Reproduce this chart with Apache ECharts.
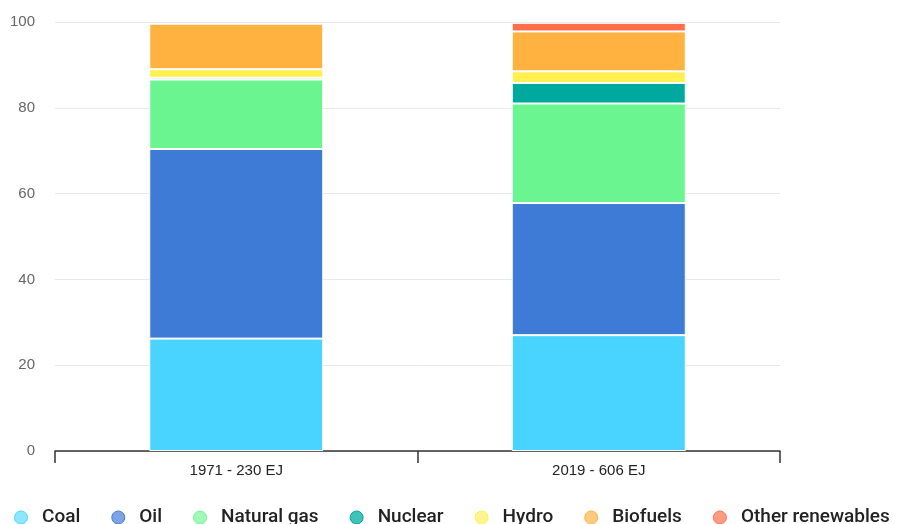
<!DOCTYPE html>
<html>
<head>
<meta charset="utf-8">
<script src="https://cdn.jsdelivr.net/npm/echarts@6/dist/echarts.min.js"></script>
<style>
  html, body { margin: 0; padding: 0; background: #fff; }
  #chart { width: 898px; height: 524px; }
</style>
</head>
<body>
<div id="chart"></div>
<script>
// share of total energy supply (%)
const categories = ["1971 - 230 EJ", "2019 - 606 EJ"];
const coal = [26.2, 27.0];
const oil = [44.2, 30.8];
const naturalGas = [16.2, 23.2];
const nuclear = [0.4, 4.8];
const hydro = [2.0, 2.7];
const biofuels = [10.6, 9.3];
const otherRenewables = [0.1, 2.0];

const names = ["Coal", "Oil", "Natural gas", "Nuclear", "Hydro", "Biofuels", "Other renewables"];
const values = [coal, oil, naturalGas, nuclear, hydro, biofuels, otherRenewables];
const colors = ["#48d4ff", "#3e7bd6", "#6bf590", "#00a99d", "#fff04f", "#ffb23f", "#ff6e48"];
const lightColors = ["#8fe6ff", "#7fa4e6", "#a3f8b8", "#3fc2b8", "#fff590", "#ffcb7f", "#ff9c82"];

const chart = echarts.init(document.getElementById("chart"));

const series = names.map((name, i) => ({
    name: name,
    type: "bar",
    stack: "total",
    barWidth: "48%",
    data: values[i],
    itemStyle: { color: colors[i], borderColor: "#fff", borderWidth: 1 },
    emphasis: { disabled: true },
}));

chart.setOption({
    animation: false,
    grid: { left: 55, right: 118, top: 22, bottom: 73 },
    legend: {
        left: 9,
        top: 503,
        icon: "circle",
        itemWidth: 32,
        itemHeight: 13,
        itemGap: 31,
        textStyle: { fontFamily: "Roboto", fontWeight: 500, fontSize: 19, color: "#222" },
        data: names.map((n, i) => ({
            name: n,
            itemStyle: { color: lightColors[i], borderColor: colors[i], borderWidth: 1 },
        })),
    },
    xAxis: {
        type: "category",
        data: categories,
        axisLine: { lineStyle: { color: "#333", width: 1.5 } },
        axisTick: { show: true, length: 12, lineStyle: { color: "#333", width: 1.5 } },
        axisLabel: { fontFamily: "Liberation Sans", fontSize: 15, color: "#222", margin: 12 },
    },
    yAxis: {
        type: "value",
        min: 0,
        max: 100,
        interval: 20,
        axisLine: { show: false },
        axisTick: { show: false },
        axisLabel: { fontFamily: "Liberation Sans", fontSize: 15, color: "#666", margin: 20 },
        splitLine: { lineStyle: { color: "#e8e8ec" } },
    },
    series,
});
</script>
</body>
</html>
